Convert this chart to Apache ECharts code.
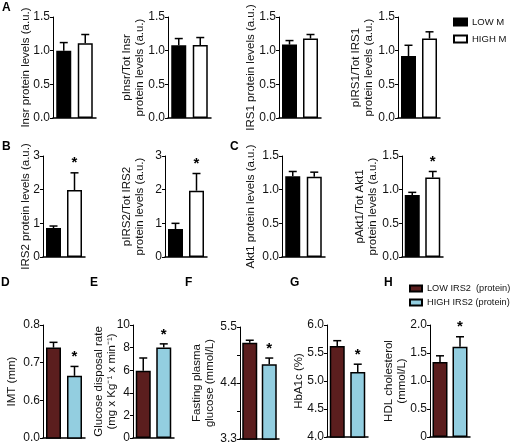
<!DOCTYPE html>
<html><head><meta charset="utf-8">
<script src="https://cdn.jsdelivr.net/npm/echarts@6/dist/echarts.min.js"></script>
<style>html,body{margin:0;padding:0;background:#fff}#c{width:511px;height:445px}</style>
</head><body><div id="c"></div>
<script>
// ---------- data ----------
const cats = ['LOW', 'HIGH'];
const groupsM = ['LOW M', 'HIGH M'];
const groupsIRS2 = ['LOW IRS2  (protein)', 'HIGH IRS2 (protein)'];

const insrMean = [1.00, 1.11],  insrSem = [0.12, 0.13],  insrSig = [0, 0];
const pInsrMean = [1.08, 1.085], pInsrSem = [0.10, 0.11], pInsrSig = [0, 0];
const irs1Mean = [1.09, 1.18],  irs1Sem = [0.06, 0.06],  irs1Sig = [0, 0];
const pIrs1Mean = [0.92, 1.18], pIrs1Sem = [0.16, 0.10], pIrs1Sig = [0, 0];
const irs2Mean = [0.86, 1.99],  irs2Sem = [0.06, 0.51],  irs2Sig = [0, 1];
const pIrs2Mean = [0.83, 1.97], pIrs2Sem = [0.17, 0.51], pIrs2Sig = [0, 1];
const akt1Mean = [1.20, 1.19],  akt1Sem = [0.07, 0.07],  akt1Sig = [0, 0];
const pAkt1Mean = [0.92, 1.18], pAkt1Sem = [0.04, 0.09], pAkt1Sig = [0, 1];
const imtMean = [0.74, 0.665],  imtSem = [0.014, 0.025], imtSig = [0, 1];
const gdrMean = [5.96, 8.0],    gdrSem = [1.12, 0.33],   gdrSig = [0, 1];
const fpgMean = [5.19, 4.77],   fpgSem = [0.05, 0.12],   fpgSig = [0, 1];
const hba1cMean = [5.625, 5.16], hba1cSem = [0.095, 0.14], hba1cSig = [0, 1];
const hdlMean = [1.34, 1.61],   hdlSem = [0.11, 0.18],   hdlSig = [0, 1];

const ticksProtein = ['0.0', '0.5', '1.0', '1.5'];
const ticksIRS2 = ['0', '1', '2', '3'];
const ticksIMT = ['0.0', '0.6', '0.7', '0.8'];
const ticksGDR = ['0', '2', '4', '6', '8', '10'];
const ticksFPG = ['3.3', '', '4.4', '', '5.5'];
const ticksHbA1c = ['4.0', '4.5', '5.0', '5.5', '6.0'];
const ticksHDL = ['0', '0.5', '1.0', '1.5', '2.0'];

// ---------- layout ----------
const FONT = '"Liberation Sans", Arial, sans-serif';
const colorsM = ['#000000', '#ffffff'];
const colorsIRS2 = ['#5b1e1e', '#93cee0'];

const panels = [
  {name: 'Insr protein levels (a.u.)', mean: insrMean, sem: insrSem, sig: insrSig, ticks: ticksProtein, min: 0, max: 1.5, interval: 0.5, set: 'M', box: [53, 17, 43, 101], gap: 20},
  {name: 'pInsr/Tot Insr\nprotein levels (a.u.)', mean: pInsrMean, sem: pInsrSem, sig: pInsrSig, ticks: ticksProtein, min: 0, max: 1.5, interval: 0.5, set: 'M', box: [168, 17, 43, 101], gap: 21},
  {name: 'IRS1 protein levels (a.u.)', mean: irs1Mean, sem: irs1Sem, sig: irs1Sig, ticks: ticksProtein, min: 0, max: 1.5, interval: 0.5, set: 'M', box: [279, 17, 42, 101], gap: 21},
  {name: 'pIRS1/Tot IRS1\nprotein levels (a.u.)', mean: pIrs1Mean, sem: pIrs1Sem, sig: pIrs1Sig, ticks: ticksProtein, min: 0, max: 1.5, interval: 0.5, set: 'M', box: [398, 17, 42, 101], gap: 22},
  {name: 'IRS2 protein levels (a.u.)', mean: irs2Mean, sem: irs2Sem, sig: irs2Sig, ticks: ticksIRS2, min: 0, max: 3, interval: 1, set: 'M', box: [43, 156, 42, 101], gap: 10},
  {name: 'pIRS2/Tot IRS2\nprotein levels (a.u.)', mean: pIrs2Mean, sem: pIrs2Sem, sig: pIrs2Sig, ticks: ticksIRS2, min: 0, max: 3, interval: 1, set: 'M', box: [165, 156, 42, 101], gap: 18},
  {name: 'Akt1 protein levels (a.u.)', mean: akt1Mean, sem: akt1Sem, sig: akt1Sig, ticks: ticksProtein, min: 0, max: 1.5, interval: 0.5, set: 'M', box: [282, 156, 43, 101], gap: 24},
  {name: 'pAkt1/Tot Akt1\nprotein levels (a.u.)', mean: pAkt1Mean, sem: pAkt1Sem, sig: pAkt1Sig, ticks: ticksProtein, min: 0, max: 1.5, interval: 0.5, set: 'M', box: [402, 156, 41, 101], gap: 22},
  {name: 'IMT (mm)', mean: imtMean, sem: imtSem, sig: imtSig, ticks: ticksIMT, min: 0.5, max: 0.8, interval: 0.1, set: 'I', box: [43, 325, 42, 113], gap: 24},
  {name: 'Glucose disposal rate\n(mg x Kg\u207B\u00B9 x min\u207B\u00B9)', mean: gdrMean, sem: gdrSem, sig: gdrSig, ticks: ticksGDR, min: 0, max: 10, interval: 2, set: 'I', box: [133, 325, 41, 113], gap: 14},
  {name: 'Fasting plasma\nglucose (mmol/L)', mean: fpgMean, sem: fpgSem, sig: fpgSig, ticks: ticksFPG, min: 3.3, max: 5.5, interval: 0.55, set: 'I', box: [240, 327, 39, 112], gap: 23},
  {name: 'HbA1c (%)', mean: hba1cMean, sem: hba1cSem, sig: hba1cSig, ticks: ticksHbA1c, min: 4.0, max: 6.0, interval: 0.5, set: 'I', box: [327, 325, 41, 112], gap: 21},
  {name: 'HDL cholesterol\n(mmol/L)', mean: hdlMean, sem: hdlSem, sig: hdlSig, ticks: ticksHDL, min: 0, max: 2.0, interval: 0.5, set: 'I', box: [430, 325, 40, 112], gap: 21}
];

const letters = [
  {t: 'A', x: 2, y: 2}, {t: 'B', x: 2, y: 141}, {t: 'C', x: 230, y: 141},
  {t: 'D', x: 1, y: 277}, {t: 'E', x: 90, y: 277}, {t: 'F', x: 185, y: 277},
  {t: 'G', x: 290, y: 277}, {t: 'H', x: 384, y: 277}
];

function renderErr(params, api) {
  const x = api.value(0), m = api.value(1), top = api.value(2), s = api.value(3);
  const p0 = api.coord([x, m]);
  const p1 = api.coord([x, top]);
  const cap = 4;
  const children = [
    {type: 'line', shape: {x1: p0[0], y1: p0[1], x2: p1[0], y2: p1[1]}, style: {stroke: '#000', lineWidth: 1.5}},
    {type: 'line', shape: {x1: p1[0] - cap, y1: p1[1], x2: p1[0] + cap, y2: p1[1]}, style: {stroke: '#000', lineWidth: 1.5}}
  ];
  if (s) {
    children.push({type: 'text', style: {text: '*', x: p1[0], y: p1[1] - 2, align: 'center', verticalAlign: 'bottom', font: 'bold 15px ' + FONT, fill: '#000'}});
  }
  return {type: 'group', children};
}

const grid = [], xAxis = [], yAxis = [], series = [];
panels.forEach((p, i) => {
  grid.push({left: p.box[0], top: p.box[1], width: p.box[2], height: p.box[3], containLabel: false, outerBoundsMode: 'none'});
  xAxis.push({gridIndex: i, type: 'category', data: cats,
    axisLine: {show: true, onZero: false, lineStyle: {color: '#000', width: 1.5}},
    axisTick: {show: false}, axisLabel: {show: false}, splitLine: {show: false}});
  yAxis.push({gridIndex: i, type: 'value', min: p.min, max: p.max, interval: p.interval,
    axisLine: {show: true, lineStyle: {color: '#000', width: 1}},
    axisTick: {show: true, length: 3, lineStyle: {color: '#000', width: 1}},
    splitLine: {show: false},
    axisLabel: {fontSize: 12, color: '#111', fontFamily: FONT, margin: 3,
      formatter: v => p.ticks[Math.round((v - p.min) / p.interval)] ?? ''},
    name: p.name, nameLocation: 'middle', nameRotate: 90, nameGap: p.gap, nameMoveOverlap: false,
    nameTextStyle: {fontSize: 11.5, color: '#111', fontFamily: FONT, lineHeight: 13.5}});
  const groups = p.set === 'M' ? groupsM : groupsIRS2;
  const colors = p.set === 'M' ? colorsM : colorsIRS2;
  groups.forEach((g, k) => {
    series.push({type: 'bar', name: g, xAxisIndex: i, yAxisIndex: i, barWidth: 15, barGap: '-100%',
      data: cats.map((c, j) => j === k ? p.mean[j] : '-'),
      itemStyle: {color: colors[k], borderColor: '#000', borderWidth: 1.5},
      emphasis: {disabled: true}, animation: false, clip: true});
  });
  series.push({type: 'custom', xAxisIndex: i, yAxisIndex: i, renderItem: renderErr, animation: false, z: 5,
    data: cats.map((c, j) => [j, p.mean[j], p.mean[j] + p.sem[j], p.sig[j]]),
    encode: {x: 0, y: 2}});
});

const option = {
  backgroundColor: '#fff',
  animation: false,
  grid, xAxis, yAxis, series,
  legend: [
    {data: groupsM, orient: 'vertical', left: 448, top: 12, itemWidth: 13, itemHeight: 7, itemGap: 7,
     selectedMode: false, icon: 'rect', textStyle: {fontSize: 9.5, color: '#111', fontFamily: FONT}},
    {data: groupsIRS2, orient: 'vertical', left: 404, top: 279, itemWidth: 12, itemHeight: 6, itemGap: 5,
     selectedMode: false, icon: 'rect',
     textStyle: {fontSize: 9.2, color: '#111', fontFamily: FONT}}
  ],
  graphic: letters.map(l => ({type: 'text', left: l.x, top: l.y,
    style: {text: l.t, font: 'bold 12px ' + FONT, fill: '#000'}}))
};
const chart = echarts.init(document.getElementById('c'));
chart.setOption(option);
</script></body></html>
